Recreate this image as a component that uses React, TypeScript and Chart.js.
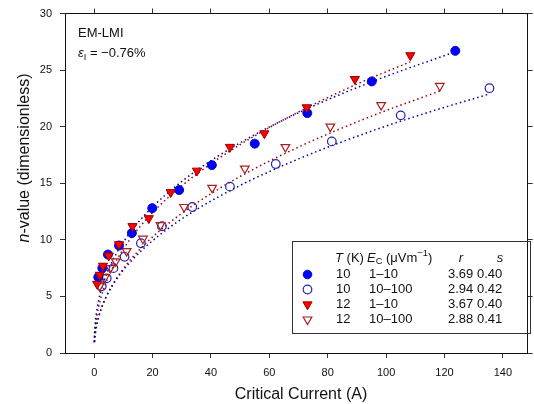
import { useEffect, useRef } from "react";
import { Chart, registerables } from "chart.js";

Chart.register(...registerables);

const FONT = "'Liberation Sans', Arial, Helvetica, sans-serif";

// ---- measured data: critical current (A) vs n-value ----
// 10 K, Ec 1–10 µV/m (filled circles)
const ic10Low = [1.4, 2.8, 4.7, 8.5, 12.9, 19.9, 29.1, 40.3, 55.0, 73.0, 95.1, 123.7];
const n10Low = [6.7, 7.5, 8.7, 9.5, 10.6, 12.8, 14.4, 16.6, 18.5, 21.2, 24.0, 26.7];
// 10 K, Ec 10–100 µV/m (open circles)
const ic10High = [2.6, 4.3, 6.6, 10.4, 16.0, 23.2, 33.6, 46.5, 62.2, 81.4, 105.0, 135.4];
const n10High = [5.9, 6.6, 7.5, 8.5, 9.7, 11.2, 12.9, 14.7, 16.7, 18.7, 21.0, 23.4];
// 12 K, Ec 1–10 µV/m (filled down triangles)
const ic12Low = [1.0, 1.9, 3.0, 5.0, 8.5, 13.1, 18.7, 26.2, 35.2, 46.5, 58.3, 72.8, 89.3, 108.3];
const n12Low = [6.1, 6.9, 7.7, 8.6, 9.6, 11.2, 11.9, 14.2, 16.1, 18.2, 19.4, 21.7, 24.2, 26.3];
// 12 K, Ec 10–100 µV/m (open down triangles)
const ic12High = [1.8, 3.7, 5.5, 7.4, 11.1, 16.7, 22.7, 30.8, 40.4, 51.6, 65.5, 80.9, 98.3, 118.4];
const n12High = [5.9, 6.7, 7.5, 8.1, 9.0, 10.1, 11.3, 12.9, 14.6, 16.3, 18.2, 20.0, 21.9, 23.6];

// ---- fitted curves (dotted) ----
const fit10LowI = [0.03, 0.1, 0.3, 0.6, 1, 1.5, 2.5, 4, 6, 9, 13, 18, 25, 35, 50, 70, 95, 123.7];
const fit10LowN = [0.98, 1.58, 2.44, 3.21, 3.93, 4.62, 5.66, 6.81, 8.01, 9.4, 10.88, 12.38, 14.1, 16.12, 18.57, 21.23, 23.96, 26.62];
const fit12LowI = [0.05, 0.1, 0.3, 0.6, 1, 1.5, 2.5, 4, 6, 9, 13, 18, 25, 35, 50, 70, 90, 108.3];
const fit12LowN = [0.93, 1.26, 2.02, 2.73, 3.4, 4.05, 5.05, 6.19, 7.37, 8.78, 10.3, 11.85, 13.66, 15.79, 18.42, 21.3, 23.76, 25.73];
const fit10HighI = [0.1, 0.3, 0.6, 1, 1.5, 2.5, 4, 6, 9, 13, 18, 25, 35, 50, 70, 95, 115, 135.4];
const fit10HighN = [0.98, 1.58, 2.14, 2.68, 3.2, 4.0, 4.91, 5.86, 7.0, 8.22, 9.48, 10.94, 12.67, 14.81, 17.15, 19.61, 21.31, 22.89];
const fit12HighI = [0.12, 0.3, 0.6, 1, 1.5, 2.5, 4, 6, 9, 13, 18, 25, 35, 50, 70, 95, 118.4];
const fit12HighN = [0.99, 1.5, 2.06, 2.6, 3.13, 3.95, 4.91, 5.91, 7.11, 8.42, 9.77, 11.35, 13.24, 15.6, 18.2, 20.93, 23.15];

// ---- axes ----
const xTicks = [0, 20, 40, 60, 80, 100, 120, 140];
const yTicks = [0, 5, 10, 15, 20, 25, 30];
const xTitle = "Critical Current (A)";

// ---- legend table ----
const legendT = ["10", "10", "12", "12"];
const legendEc = ["1–10", "10–100", "1–10", "10–100"];
const legendR = ["3.69", "2.94", "3.67", "2.88"];
const legendS = ["0.40", "0.42", "0.40", "0.41"];

const BLUE_FILL = "#0000ff";
const BLUE_EDGE = "#0a0ac8";
const BLUE_OPEN = "#2424a8";
const RED_FILL = "#ff0000";
const RED_EDGE = "#9a0000";
const RED_OPEN = "#a82020";
const BLUE_LINE = "#0000a0";
const RED_LINE = "#a00000";

const pts = (xs: number[], ys: number[]) => xs.map((x, i) => ({ x, y: ys[i] }));

type Seg = { t: string; it?: boolean; sub?: boolean; sup?: boolean };

function drawRich(ctx: CanvasRenderingContext2D, segs: Seg[], x: number, y: number, size: number, align: "left" | "center") {
  const fontFor = (s: Seg) => {
    const sz = s.sub || s.sup ? size * 0.72 : size;
    return `${s.it ? "italic " : ""}${sz}px ${FONT}`;
  };
  let total = 0;
  for (const s of segs) {
    ctx.font = fontFor(s);
    total += ctx.measureText(s.t).width;
  }
  let cx = align === "center" ? x - total / 2 : x;
  ctx.textBaseline = "middle";
  ctx.textAlign = "left";
  for (const s of segs) {
    ctx.font = fontFor(s);
    const dy = s.sub ? size * 0.3 : s.sup ? -size * 0.35 : 0;
    ctx.fillText(s.t, cx, y + dy);
    cx += ctx.measureText(s.t).width;
  }
}

function drawMarker(ctx: CanvasRenderingContext2D, kind: number, x: number, y: number) {
  ctx.save();
  ctx.lineWidth = kind % 2 === 0 ? 1 : 1.2;
  if (kind < 2) {
    ctx.beginPath();
    ctx.arc(x, y, 4.3, 0, Math.PI * 2);
    if (kind === 0) {
      ctx.fillStyle = BLUE_FILL;
      ctx.fill();
      ctx.strokeStyle = BLUE_EDGE;
    } else {
      ctx.strokeStyle = BLUE_OPEN;
    }
    ctx.stroke();
  } else {
    const r = kind === 2 ? 5.3 : 5;
    ctx.beginPath();
    for (let k = 0; k < 3; k++) {
      const a = Math.PI + (k * 2 * Math.PI) / 3;
      const px = x + Math.sin(a) * r;
      const py = y - Math.cos(a) * r;
      if (k === 0) ctx.moveTo(px, py);
      else ctx.lineTo(px, py);
    }
    ctx.closePath();
    if (kind === 2) {
      ctx.fillStyle = RED_FILL;
      ctx.fill();
      ctx.strokeStyle = RED_EDGE;
    } else {
      ctx.strokeStyle = RED_OPEN;
    }
    ctx.stroke();
  }
  ctx.restore();
}

const textPlugin = {
  id: "texts",
  afterDraw(chart: any) {
    const ctx: CanvasRenderingContext2D = chart.ctx;
    ctx.save();
    ctx.fillStyle = "#111";
    // axis titles
    drawRich(ctx, [{ t: xTitle }], 301, 395, 16, "center");
    ctx.save();
    ctx.translate(25, 158);
    ctx.rotate(-Math.PI / 2);
    drawRich(ctx, [{ t: "n", it: true }, { t: "-value (dimensionless)" }], 0, 0, 16, "center");
    ctx.restore();
    // annotation
    drawRich(ctx, [{ t: "EM-LMI" }], 78, 33, 13, "left");
    drawRich(ctx, [{ t: "ε", it: true }, { t: "I", sub: true }, { t: " = −0.76%" }], 78, 53.5, 13, "left");
    // legend box
    ctx.strokeStyle = "#333";
    ctx.lineWidth = 1;
    ctx.strokeRect(292.5, 241.5, 238, 92);
    const hy = 258;
    drawRich(ctx, [{ t: "T", it: true }, { t: " (K)" }], 335, hy, 13, "left");
    drawRich(ctx, [{ t: "E", it: true }, { t: "C", sub: true }, { t: " (μVm" }, { t: "−1", sup: true }, { t: ")" }], 367, hy, 13, "left");
    drawRich(ctx, [{ t: "r", it: true }], 461, hy, 13, "center");
    drawRich(ctx, [{ t: "s", it: true }], 500, hy, 13, "center");
    for (let i = 0; i < 4; i++) {
      const y = 274.5 + i * 15;
      drawMarker(ctx, i, 307.5, y);
      ctx.fillStyle = "#111";
      drawRich(ctx, [{ t: legendT[i] }], 336, y, 13, "left");
      drawRich(ctx, [{ t: legendEc[i] }], 369, y, 13, "left");
      drawRich(ctx, [{ t: legendR[i] }], 448, y, 13, "left");
      drawRich(ctx, [{ t: legendS[i] }], 477, y, 13, "left");
    }
    ctx.restore();
  },
};

export default function App() {
  const ref = useRef<HTMLCanvasElement | null>(null);

  useEffect(() => {
    if (!ref.current) return;
    const gridCommon = {
      drawOnChartArea: false,
      drawTicks: true,
      tickLength: 5,
      color: "#333",
      lineWidth: 1,
    };
    const border = { display: true, color: "#111", width: 1 };
    const setX = (s: any) => {
      s.ticks = xTicks.map((v) => ({ value: v }));
    };
    const setY = (s: any) => {
      s.ticks = yTicks.map((v) => ({ value: v }));
    };
    const noPad = (s: any) => {
      s.paddingLeft = 0;
      s.paddingRight = 0;
      s.paddingTop = 0;
      s.paddingBottom = 0;
    };
    const fitLine = (xs: number[], ys: number[], color: string) => ({
      data: pts(xs, ys),
      showLine: true,
      borderColor: color,
      borderWidth: 1.5,
      borderDash: [1.5, 3],
      pointRadius: 0,
      cubicInterpolationMode: "monotone",
      fill: false,
      order: 10,
    });
    const chart = new Chart(ref.current, {
      type: "scatter",
      data: {
        datasets: [
          fitLine(fit10LowI, fit10LowN, BLUE_LINE),
          fitLine(fit10HighI, fit10HighN, BLUE_LINE),
          fitLine(fit12LowI, fit12LowN, RED_LINE),
          fitLine(fit12HighI, fit12HighN, RED_LINE),
          {
            data: pts(ic10High, n10High),
            pointStyle: "circle",
            pointRadius: 4.3,
            backgroundColor: "rgba(0,0,0,0)",
            borderColor: BLUE_OPEN,
            pointBorderWidth: 1.2,
            order: 4,
          },
          {
            data: pts(ic12High, n12High),
            pointStyle: "triangle",
            pointRotation: 180,
            pointRadius: 5,
            backgroundColor: "rgba(0,0,0,0)",
            borderColor: RED_OPEN,
            pointBorderWidth: 1.2,
            order: 3,
          },
          {
            data: pts(ic10Low, n10Low),
            pointStyle: "circle",
            pointRadius: 4.5,
            backgroundColor: BLUE_FILL,
            borderColor: BLUE_EDGE,
            pointBorderWidth: 1,
            order: 2,
          },
          {
            data: pts(ic12Low, n12Low),
            pointStyle: "triangle",
            pointRotation: 180,
            pointRadius: 5.3,
            backgroundColor: RED_FILL,
            borderColor: RED_EDGE,
            pointBorderWidth: 1,
            order: 1,
          },
        ] as any,
      },
      options: {
        animation: false,
        responsive: false,
        devicePixelRatio: 1,
        layout: { padding: 0 },
        plugins: { legend: { display: false }, tooltip: { enabled: false } },
        events: [],
        scales: {
          x: {
            type: "linear",
            position: "bottom",
            min: -10,
            max: 148.5,
            afterBuildTicks: setX,
            afterFit: (s: any) => {
              s.height = 51;
              noPad(s);
            },
            grid: gridCommon,
            border,
            ticks: { font: { family: FONT, size: 11 }, color: "#111", padding: 8, maxRotation: 0 },
          },
          x2: {
            type: "linear",
            position: "top",
            min: -10,
            max: 148.5,
            afterBuildTicks: setX,
            afterFit: (s: any) => {
              s.height = 13.5;
              noPad(s);
            },
            grid: gridCommon,
            border,
            ticks: { display: false },
          },
          y: {
            type: "linear",
            position: "left",
            min: 0,
            max: 30,
            afterBuildTicks: setY,
            afterFit: (s: any) => {
              s.width = 65;
              noPad(s);
            },
            grid: gridCommon,
            border,
            ticks: { font: { family: FONT, size: 11 }, color: "#111", padding: 8 },
          },
          y2: {
            type: "linear",
            position: "right",
            min: 0,
            max: 30,
            afterBuildTicks: setY,
            afterFit: (s: any) => {
              s.width = 1.5;
              noPad(s);
            },
            grid: gridCommon,
            border,
            ticks: { display: false },
          },
        },
      } as any,
      plugins: [textPlugin],
    });
    return () => chart.destroy();
  }, []);

  return (
    <div style={{ position: "absolute", left: 0, top: 0, width: 534, height: 404, background: "#fff" }}>
      <canvas ref={ref} width={534} height={404} style={{ display: "block" }} />
    </div>
  );
}
